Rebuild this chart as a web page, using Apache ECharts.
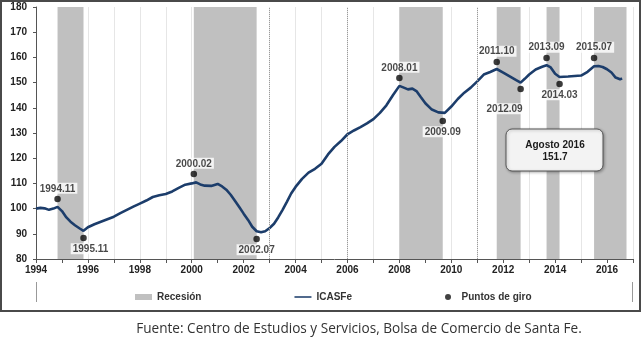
<!DOCTYPE html>
<html><head><meta charset="utf-8">
<script src="https://cdn.jsdelivr.net/npm/echarts@6/dist/echarts.min.js"></script>
<style>html,body{margin:0;padding:0;background:#fff}#c{width:642px;height:342px}</style>
</head><body><div id="c"></div>
<script>
// ICASFe index (year as decimal, value)
var icasfeYears = [1994.00,1994.17,1994.33,1994.50,1994.67,1994.83,1995.00,1995.17,1995.33,1995.50,1995.67,1995.83,
1996.00,1996.25,1996.50,1996.75,1997.00,1997.25,1997.50,1997.75,1998.00,1998.25,1998.50,1998.75,1999.00,1999.25,1999.50,1999.75,
2000.00,2000.17,2000.33,2000.50,2000.75,2001.00,2001.17,2001.33,2001.50,2001.67,2001.83,2002.00,2002.17,2002.33,2002.50,2002.67,2002.83,
2003.00,2003.17,2003.33,2003.50,2003.67,2003.83,2004.00,2004.25,2004.50,2004.75,2005.00,2005.25,2005.50,2005.75,
2006.00,2006.25,2006.50,2006.75,2007.00,2007.25,2007.50,2007.75,2008.00,2008.17,2008.33,2008.50,2008.67,2008.83,
2009.00,2009.25,2009.50,2009.75,2010.00,2010.25,2010.50,2010.75,2011.00,2011.25,2011.50,2011.75,
2012.00,2012.25,2012.50,2012.67,2012.83,2013.00,2013.25,2013.50,2013.67,2013.83,2014.00,2014.17,2014.50,2014.75,
2015.00,2015.25,2015.50,2015.67,2015.83,2016.00,2016.17,2016.33,2016.50,2016.58];
var icasfeValues = [100.0,100.3,100.1,99.5,100.0,100.7,99.0,96.5,94.8,93.4,92.2,91.2,
92.6,93.8,94.8,95.8,96.8,98.2,99.5,100.8,102.0,103.2,104.6,105.3,105.8,106.8,108.2,109.5,
110.0,110.4,109.6,109.1,109.0,109.8,108.8,107.5,105.5,103.0,100.6,98.0,95.5,92.8,91.0,90.6,91.0,
92.3,94.0,96.5,99.5,102.8,106.0,108.6,111.8,114.3,115.8,117.8,121.5,124.5,126.8,
129.5,131.0,132.3,133.8,135.5,138.0,141.0,145.0,148.7,148.0,147.3,147.6,146.5,144.2,
141.8,139.3,138.2,138.0,140.5,143.5,146.0,148.0,150.5,153.2,154.2,155.4,
154.0,152.5,151.0,150.0,151.5,153.2,155.2,156.3,156.9,156.0,153.5,152.2,152.4,152.6,
152.8,154.3,156.5,156.6,156.2,155.3,154.0,152.0,151.3,151.7];

// Recession periods
var recessionStart = [1994.83, 2000.08, 2008.00, 2011.75, 2013.67, 2015.50];
var recessionEnd   = [1995.83, 2002.50, 2009.67, 2012.67, 2014.17, 2016.75];

// Turning points
var tpLabels = ['1994.11','1995.11','2000.02','2002.07','2008.01','2009.09','2011.10','2012.09','2013.09','2014.03','2015.07'];
var tpYears  = [1994.83, 1995.83, 2000.08, 2002.50, 2008.00, 2009.67, 2011.75, 2012.67, 2013.67, 2014.17, 2015.50];
var tpValues = [103.8, 88.3, 113.7, 87.9, 151.8, 134.8, 158.2, 147.5, 159.8, 149.4, 159.8];

var yTicks = [80,90,100,110,120,130,140,150,160,170,180];
var xLabelYears = [1994,1996,1998,2000,2002,2004,2006,2008,2010,2012,2014,2016];
var refLines = [2003, 2006, 2011];

var note = ['Agosto 2016', '151.7'];
var source = 'Fuente: Centro de Estudios y Servicios, Bolsa de Comercio de Santa Fe.';

// ---- build option ----
var Y_MIN = yTicks[0], Y_MAX = yTicks[yTicks.length - 1];
var lineData = icasfeYears.map(function (y, i) { return [y, icasfeValues[i]]; });
var recData = recessionStart.map(function (s, i) { return [s, recessionEnd[i]]; });
var below = {'1995.11':[7,0], '2002.07':[0,0], '2009.09':[0,0], '2012.09':[-16,9], '2014.03':[0,0]};
var tpData = tpYears.map(function (y, i) {
  var lb = tpLabels[i];
  var d = {name: lb, value: [y, tpValues[i]]};
  if (below[lb]) d.label = {position: 'bottom', offset: below[lb]};
  return d;
});
var FONT = 'Liberation Sans, Arial, sans-serif';

var chart = echarts.init(document.getElementById('c'), null, {renderer: 'canvas'});
chart.setOption({
  animation: false,
  grid: {left: 36, right: 9, top: 7, bottom: 83, containLabel: false},
  xAxis: {
    type: 'value', min: 1994, max: 2017, interval: 1,
    axisLine: {show: true, lineStyle: {color: '#555', width: 1}},
    axisTick: {show: true, length: 4, lineStyle: {color: '#555'}},
    axisLabel: {
      margin: 6, color: '#222', fontSize: 10, fontWeight: 'bold', fontFamily: FONT,
      formatter: function (v) { return xLabelYears.indexOf(v) >= 0 ? String(v) : ''; }
    },
    splitLine: {show: true, lineStyle: {color: '#e6e6e6', width: 1}}
  },
  yAxis: {
    type: 'value', min: Y_MIN, max: Y_MAX, interval: 10,
    axisLine: {show: true, lineStyle: {color: '#555', width: 1}},
    axisTick: {show: true, length: 3, lineStyle: {color: '#555'}},
    axisLabel: {margin: 9, color: '#222', fontSize: 10, fontWeight: 'bold', fontFamily: FONT},
    splitLine: {show: false}
  },
  legend: {
    left: 130, top: 287, itemWidth: 17, itemHeight: 6, itemGap: 93,
    textStyle: {fontSize: 10, fontWeight: 'bold', color: '#333', fontFamily: FONT},
    data: [
      {name: 'Recesión', icon: 'rect', itemStyle: {color: '#c0c0c0'}},
      {name: 'ICASFe', icon: 'path://M0,0H20V1.8H0Z', itemStyle: {color: '#1c3d6b'}},
      {name: 'Puntos de giro', icon: 'circle', itemStyle: {color: '#111'}}
    ]
  },
  series: [
    {
      name: 'Recesión', type: 'custom', data: recData, encode: {x: [0, 1]}, z: 1,
      renderItem: function (params, api) {
        var a = api.coord([api.value(0), Y_MAX]);
        var b = api.coord([api.value(1), Y_MIN]);
        return {type: 'rect', shape: {x: a[0], y: a[1], width: b[0] - a[0], height: b[1] - a[1]},
                style: {fill: '#c0c0c0'}};
      },
      markLine: {
        silent: true, symbol: 'none', label: {show: false},
        lineStyle: {type: 'dotted', color: '#9a9a9a', width: 1},
        data: refLines.map(function (v) { return {xAxis: v}; })
      }
    },
    {
      name: 'ICASFe', type: 'line', data: lineData, showSymbol: false, z: 3,
      lineStyle: {color: '#1c3d6b', width: 2.6}, itemStyle: {color: '#1c3d6b'}
    },
    {
      name: 'Puntos de giro', type: 'scatter', data: tpData, symbolSize: 6.5, z: 4,
      itemStyle: {color: '#0a0a0a'},
      label: {
        show: true, position: 'top', distance: 2, formatter: '{b}',
        color: '#1a1a1a', fontSize: 10, fontWeight: 'bold', fontFamily: FONT,
        backgroundColor: '#fff', padding: [1, 2, 0, 2]
      }
    }
  ],
  graphic: [
    {type: 'rect', shape: {x: 1, y: 1, width: 639, height: 310}, style: {fill: 'none', stroke: '#4a4a4a', lineWidth: 2}, z: 100},
    {type: 'line', shape: {x1: 36.5, y1: 282, x2: 36.5, y2: 302}, style: {stroke: '#999', lineWidth: 1}},
    {type: 'line', shape: {x1: 632.5, y1: 282, x2: 632.5, y2: 302}, style: {stroke: '#999', lineWidth: 1}},
    {type: 'rect', shape: {x: 506, y: 129, width: 97, height: 42, r: 6},
     style: {fill: '#f3f3f3', stroke: '#555', lineWidth: 1, shadowBlur: 3, shadowColor: 'rgba(0,0,0,0.3)', shadowOffsetX: 1, shadowOffsetY: 1}, z: 50},
    {type: 'text', x: 555, y: 145, style: {text: note[0], fill: '#1a1a1a', font: 'bold 10px ' + FONT, textAlign: 'center', textVerticalAlign: 'middle'}, z: 51},
    {type: 'text', x: 555, y: 157, style: {text: note[1], fill: '#1a1a1a', font: 'bold 10px ' + FONT, textAlign: 'center', textVerticalAlign: 'middle'}, z: 51},
    {type: 'text', x: 359, y: 329, style: {text: source, fill: '#333', font: '13.6px "Open Sans", sans-serif', textAlign: 'center', textVerticalAlign: 'middle'}}
  ]
});
</script></body></html>
